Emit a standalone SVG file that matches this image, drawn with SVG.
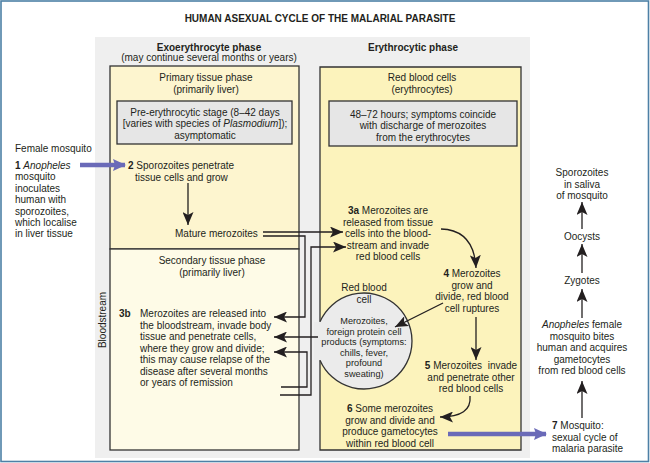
<svg xmlns="http://www.w3.org/2000/svg" width="650" height="463" viewBox="0 0 650 463">
<defs>
<style>
text{font-family:"Liberation Sans",Arial,sans-serif;font-size:10px;fill:#231f20}
.c{text-anchor:middle}
.b{font-weight:bold}
.i{font-style:italic}
.sm{font-size:9.2px}
.box{stroke:#333;stroke-width:1.3}
.ln{fill:none;stroke:#231f20;stroke-width:1.3}
.blue{fill:none;stroke:#6a6ab8;stroke-width:4.5}
</style>
<marker id="ah" markerUnits="userSpaceOnUse" markerWidth="14" markerHeight="11" refX="13" refY="5.5" orient="auto">
<path d="M0,0 L13,5.5 L0,11 L3,5.5 z" fill="#231f20"/>
</marker>
<marker id="bh" markerUnits="userSpaceOnUse" markerWidth="13" markerHeight="12" refX="12" refY="6" orient="auto">
<path d="M0,0 L13,6 L0,12 L2,6 z" fill="#6a6ab8"/>
</marker>
</defs>
<rect x="0" y="0" width="650" height="463" fill="#fff"/>
<rect x="1" y="1" width="647.5" height="460.5" fill="none" stroke="#4d80a6" stroke-width="1.6"/>

<g id="title"><text x="320" y="22" class="c b">HUMAN ASEXUAL CYCLE OF THE MALARIAL PARASITE</text></g>

<g id="panel">
<rect x="95" y="37" width="435" height="421" fill="#efefef"/>
<text x="209" y="50.5" class="c b">Exoerythrocyte phase</text>
<text x="209" y="61" class="c">(may continue several months or years)</text>
<text x="413" y="50.5" class="c b">Erythrocytic phase</text>
<text transform="translate(105.5,320) rotate(-90)" x="0" y="0" class="c">Bloodstream</text>
</g>

<g id="primary">
<rect x="110" y="66" width="189" height="183" fill="#fdf5cf" class="box"/>
<text x="206" y="80.5" class="c">Primary tissue phase</text>
<text x="206" y="93" class="c">(primarily liver)</text>
<rect x="117" y="101" width="175" height="43" fill="#e6e6e6" class="box"/>
<text x="205" y="115.5" class="c">Pre-erythrocytic stage (8–42 days</text>
<text x="205" y="127" class="c">[varies with species of <tspan class="i">Plasmodium</tspan>]);</text>
<text x="205" y="138.5" class="c">asymptomatic</text>
</g>

<g id="secondary">
<rect x="110" y="249" width="189" height="201" fill="#fefbe7" class="box"/>
<text x="212" y="264" class="c">Secondary tissue phase</text>
<text x="212" y="275.5" class="c">(primarily liver)</text>
</g>

<g id="redcells">
<rect x="320" y="67" width="201" height="383" fill="#fcf3bc"/>
<path d="M320,321.8 V67 H521 V450 H320 V360.2" class="box" fill="none"/>
<text x="422" y="80.5" class="c">Red blood cells</text>
<text x="422" y="93" class="c">(erythrocytes)</text>
<rect x="329" y="101" width="188" height="45" fill="#e6e6e6" class="box"/>
<text x="423" y="117.5" class="c">48–72 hours; symptoms coincide</text>
<text x="423" y="129" class="c">with discharge of merozoites</text>
<text x="423" y="140.5" class="c">from the erythrocytes</text>
</g>

<g id="node1">
<text x="15" y="152">Female mosquito</text>
<text x="15" y="169"><tspan class="b">1</tspan> <tspan class="i">Anopheles</tspan></text>
<text x="15" y="180.4">mosquito</text>
<text x="15" y="191.8">inoculates</text>
<text x="15" y="203.2">human with</text>
<text x="15" y="214.6">sporozoites,</text>
<text x="15" y="226">which localise</text>
<text x="15" y="237.4">in liver tissue</text>
</g>

<g id="node2">
<text x="128" y="169"><tspan class="b">2</tspan> Sporozoites penetrate</text>
<text x="135" y="180.5">tissue cells and grow</text>
</g>

<g id="mature">
<text x="175" y="237">Mature merozoites</text>
</g>

<g id="node3a">
<text x="388" y="214" class="c"><tspan class="b">3a</tspan> Merozoites are</text>
<text x="388" y="225.5" class="c">released from tissue</text>
<text x="388" y="237" class="c">cells into the blood-</text>
<text x="388" y="248.5" class="c">stream and invade</text>
<text x="388" y="260" class="c">red blood cells</text>
</g>

<g id="node3b">
<text x="119" y="317" class="b">3b</text>
<text x="140" y="317">Merozoites are released into</text>
<text x="140" y="328.5">the bloodstream, invade body</text>
<text x="140" y="340">tissue and penetrate cells,</text>
<text x="140" y="351.5">where they grow and divide;</text>
<text x="140" y="363">this may cause relapse of the</text>
<text x="140" y="374.5">disease after several months</text>
<text x="140" y="386">or years of remission</text>
</g>

<g id="cell">
<circle cx="364" cy="341" r="48" fill="#ebebeb"/>
<rect x="314" y="322" width="8" height="38" fill="#ebebeb"/>
<path d="M320,321.8 A48,48 0 1 1 320,360.2" class="box" fill="none"/>
<text x="364" y="291" class="c">Red blood</text>
<text x="364" y="303" class="c">cell</text>
<text x="364" y="324" class="c sm">Merozoites,</text>
<text x="364" y="334.5" class="c sm">foreign protein cell</text>
<text x="364" y="345" class="c sm">products (symptoms:</text>
<text x="364" y="355.5" class="c sm">chills, fever,</text>
<text x="364" y="366" class="c sm">profound</text>
<text x="364" y="376.5" class="c sm">sweating)</text>
</g>

<g id="node4">
<text x="472" y="277" class="c"><tspan class="b">4</tspan> Merozoites</text>
<text x="472" y="288.5" class="c">grow and</text>
<text x="472" y="300" class="c">divide, red blood</text>
<text x="472" y="311.5" class="c">cell ruptures</text>
</g>

<g id="node5">
<text x="471" y="369" class="c" style="white-space:pre"><tspan class="b">5</tspan> Merozoites  invade</text>
<text x="471" y="380.5" class="c">and penetrate other</text>
<text x="471" y="392" class="c">red blood cells</text>
</g>

<g id="node6">
<text x="390" y="412" class="c"><tspan class="b">6</tspan> Some merozoites</text>
<text x="390" y="423.5" class="c">grow and divide and</text>
<text x="390" y="435" class="c">produce gametocytes</text>
<text x="390" y="446.5" class="c">within red blood cell</text>
</g>

<g id="node7">
<text x="552" y="429"><tspan class="b">7</tspan> Mosquito:</text>
<text x="552" y="440.5">sexual cycle of</text>
<text x="552" y="452">malaria parasite</text>
</g>

<g id="anopheles">
<text x="582" y="328" class="c"><tspan class="i">Anopheles</tspan> female</text>
<text x="582" y="339.5" class="c">mosquito bites</text>
<text x="582" y="351" class="c">human and acquires</text>
<text x="582" y="362.5" class="c">gametocytes</text>
<text x="582" y="374" class="c">from red blood cells</text>
</g>
<g id="zygotes"><text x="582" y="284" class="c">Zygotes</text></g>
<g id="oocysts"><text x="582" y="240" class="c">Oocysts</text></g>
<g id="sporozoites">
<text x="582" y="176" class="c">Sporozoites</text>
<text x="582" y="187.5" class="c">in saliva</text>
<text x="582" y="199" class="c">of mosquito</text>
</g>

<g id="connectors">
<path d="M80,165 H125" class="blue" marker-end="url(#bh)"/>
<path d="M448,434 H546" class="blue" marker-end="url(#bh)"/>
<path d="M188,183 V225" class="ln" marker-end="url(#ah)"/>
<path d="M263,232 H343" class="ln" marker-end="url(#ah)"/>
<path d="M263,236 H305 V317 H274" class="ln" marker-end="url(#ah)"/>
<path d="M280,395 H311 V247 H346" class="ln" marker-end="url(#ah)"/>
<path d="M318,337 H274" class="ln" marker-end="url(#ah)"/>
<path d="M281,387 H307 V352 H274" class="ln" marker-end="url(#ah)"/>
<path d="M441,229 Q474,230 476,268" class="ln" marker-end="url(#ah)"/>
<path d="M443,303 L395,327" class="ln" marker-end="url(#ah)"/>
<path d="M476,317 V360" class="ln" marker-end="url(#ah)"/>
<path d="M470,396 Q472,417 440,417" class="ln" marker-end="url(#ah)"/>
<path d="M582,418 V381" class="ln" marker-end="url(#ah)"/>
<path d="M582,318 V289" class="ln" marker-end="url(#ah)"/>
<path d="M582,273 V244" class="ln" marker-end="url(#ah)"/>
<path d="M582,229 V202" class="ln" marker-end="url(#ah)"/>
</g>
</svg>
